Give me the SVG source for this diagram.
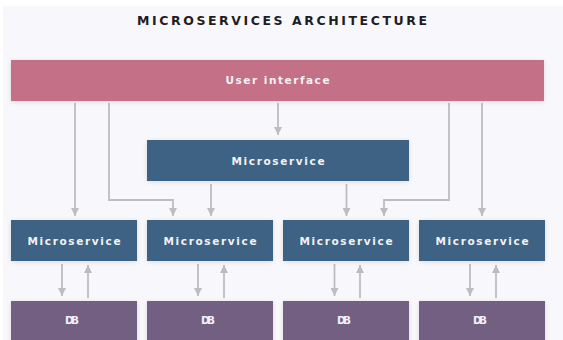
<svg xmlns="http://www.w3.org/2000/svg" width="563" height="340" viewBox="0 0 563 340">
<defs>
<marker id="ah" markerWidth="10" markerHeight="8" refX="8" refY="4" orient="auto" markerUnits="userSpaceOnUse">
<path d="M0,0 L8,4 L0,8 Z" fill="#BDBDC0"/>
</marker>
<filter id="sh" x="-10%" y="-30%" width="120%" height="160%">
<feDropShadow dx="0" dy="1" stdDeviation="2" flood-color="#000" flood-opacity="0.12"/>
</filter>
<style>
.ui{fill:#C47086;filter:url(#sh)}
.ms{fill:#3E6283;filter:url(#sh)}
.db{fill:#735F82;filter:url(#sh)}
.lbl{font-family:"DejaVu Sans","Liberation Sans",Arial,sans-serif;font-weight:bold;fill:#F2F2F5;text-anchor:middle;font-size:10.5px}
.title{font-family:"DejaVu Sans","Liberation Sans",Arial,sans-serif;font-weight:bold;fill:#1E1E22;text-anchor:middle;font-size:12.5px}
.con{fill:none;stroke:#BDBDC0;stroke-width:1.8;marker-end:url(#ah)}
</style>
</defs>
<rect x="0" y="0" width="563" height="340" fill="#FFFFFF"/>
<rect x="3" y="6" width="560" height="334" fill="#F8F8FC"/>
<text class="title" x="282" y="25" textLength="290" lengthAdjust="spacing">MICROSERVICES ARCHITECTURE</text>

<g id="connectors">
<path class="con" d="M75 103 V216"/>
<path class="con" d="M109 103 V200 H173 V216"/>
<path class="con" d="M278 103 V135"/>
<path class="con" d="M211 184 V216"/>
<path class="con" d="M346.5 184 V216"/>
<path class="con" d="M449 103 V200 H384 V216"/>
<path class="con" d="M482 103 V216"/>
<path class="con" d="M62 264 V296"/>
<path class="con" d="M88 298 V265"/>
<path class="con" d="M198 264 V296"/>
<path class="con" d="M224 298 V265"/>
<path class="con" d="M334.5 264 V296"/>
<path class="con" d="M360 298 V265"/>
<path class="con" d="M470 264 V296"/>
<path class="con" d="M496 298 V265"/>
</g>

<g id="ui">
<rect class="ui" x="11" y="60" width="533" height="41"/>
<text class="lbl" x="277.5" y="84" textLength="104" lengthAdjust="spacing">User interface</text>
</g>
<g id="ms-top">
<rect class="ms" x="147" y="140" width="262" height="41"/>
<text class="lbl" x="278" y="164.5" textLength="93" lengthAdjust="spacing">Microservice</text>
</g>
<g id="ms1">
<rect class="ms" x="11" y="220" width="126" height="41"/>
<text class="lbl" x="74" y="244.5" textLength="93" lengthAdjust="spacing">Microservice</text>
</g>
<g id="ms2">
<rect class="ms" x="147" y="220" width="126" height="41"/>
<text class="lbl" x="210" y="244.5" textLength="93" lengthAdjust="spacing">Microservice</text>
</g>
<g id="ms3">
<rect class="ms" x="283" y="220" width="126" height="41"/>
<text class="lbl" x="346" y="244.5" textLength="93" lengthAdjust="spacing">Microservice</text>
</g>
<g id="ms4">
<rect class="ms" x="419" y="220" width="126" height="41"/>
<text class="lbl" x="482" y="244.5" textLength="93" lengthAdjust="spacing">Microservice</text>
</g>
<g id="db1">
<rect class="db" x="11" y="301" width="126" height="45"/>
<text class="lbl" x="72" y="324" textLength="14" lengthAdjust="spacing">DB</text>
</g>
<g id="db2">
<rect class="db" x="147" y="301" width="126" height="45"/>
<text class="lbl" x="208" y="324" textLength="14" lengthAdjust="spacing">DB</text>
</g>
<g id="db3">
<rect class="db" x="283" y="301" width="126" height="45"/>
<text class="lbl" x="344" y="324" textLength="14" lengthAdjust="spacing">DB</text>
</g>
<g id="db4">
<rect class="db" x="419" y="301" width="126" height="45"/>
<text class="lbl" x="480" y="324" textLength="14" lengthAdjust="spacing">DB</text>
</g>
</svg>
